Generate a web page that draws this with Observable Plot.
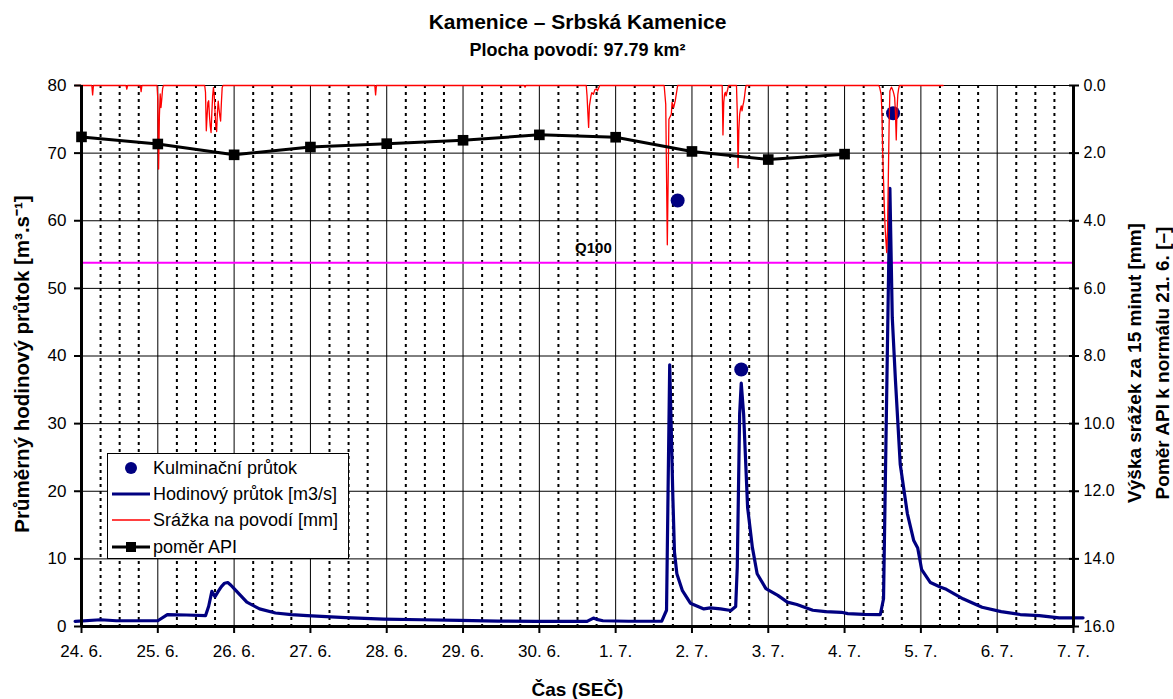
<!DOCTYPE html>
<html>
<head>
<meta charset="utf-8">
<script src="https://cdn.jsdelivr.net/npm/d3@7"></script>
<script src="https://cdn.jsdelivr.net/npm/@observablehq/plot@0.6"></script>
<style>
  html, body { margin: 0; padding: 0; background: #fff; overflow: hidden; }
  #chart { width: 1173px; height: 699px; }
</style>
</head>
<body>
<div id="chart"></div>
<script>
// ---------------- DATA ----------------
const titleText = "Kamenice – Srbská Kamenice";
const subtitleText = "Plocha povodí: 97.79 km²";
const leftTitle = "Průměrný hodinový průtok [m³.s⁻¹]";
const rightTitle1 = "Výška srážek za 15 minut [mm]";
const rightTitle2 = "Poměr API k normálu 21. 6. [–]";
const xTitle = "Čas (SEČ)";
const q100Label = "Q100";
const q100Value = 53.8;
const q100LabelTime = "2009-06-30T17:00";
const q100LabelY = 55.9;

const dayTicks = ["2009-06-24","2009-06-25","2009-06-26","2009-06-27","2009-06-28","2009-06-29","2009-06-30",
                  "2009-07-01","2009-07-02","2009-07-03","2009-07-04","2009-07-05","2009-07-06","2009-07-07"];
const dayLabels = ["24. 6.","25. 6.","26. 6.","27. 6.","28. 6.","29. 6.","30. 6.",
                   "1. 7.","2. 7.","3. 7.","4. 7.","5. 7.","6. 7.","7. 7."];
const leftTicks = [0, 10, 20, 30, 40, 50, 60, 70, 80];
const rightTicks = [16, 14, 12, 10, 8, 6, 4, 2, 0];          // right-axis values at the same heights
const rightTickLabels = ["16.0","14.0","12.0","10.0","8.0","6.0","4.0","2.0","0.0"];
const leftMax = 80, rightMax = 16;

const legendLabels = ["Kulminační průtok", "Hodinový průtok [m3/s]", "Srážka na povodí [mm]", "poměr API"];

// Hourly discharge [m3/s]
const flowTime = [
 "2009-06-23T22:00","2009-06-24T06:00","2009-06-24T11:00","2009-06-25T00:00","2009-06-25T03:00","2009-06-25T09:00",
 "2009-06-25T15:00","2009-06-25T16:00","2009-06-25T17:00","2009-06-25T18:00","2009-06-25T19:00","2009-06-25T20:00",
 "2009-06-25T21:00","2009-06-25T22:00","2009-06-25T23:00","2009-06-26T00:00","2009-06-26T02:00","2009-06-26T04:00",
 "2009-06-26T08:00","2009-06-26T13:00","2009-06-26T18:00","2009-06-26T23:00","2009-06-27T11:00","2009-06-27T23:00",
 "2009-06-28T11:00","2009-06-28T23:00","2009-06-29T11:00","2009-06-29T23:00","2009-06-30T15:00","2009-06-30T17:00",
 "2009-06-30T18:00","2009-06-30T20:00","2009-07-01T04:00","2009-07-01T14:30","2009-07-01T16:00","2009-07-01T17:00",
 "2009-07-01T18:00","2009-07-01T18:30","2009-07-01T19:15","2009-07-01T21:00","2009-07-01T23:30","2009-07-02T03:45",
 "2009-07-02T05:45","2009-07-02T09:00","2009-07-02T12:15","2009-07-02T13:45","2009-07-02T14:15","2009-07-02T15:00",
 "2009-07-02T15:30","2009-07-02T16:15","2009-07-02T17:30","2009-07-02T19:00","2009-07-02T20:30","2009-07-02T23:15",
 "2009-07-03T03:00","2009-07-03T06:00","2009-07-03T09:00","2009-07-03T14:00","2009-07-03T18:00","2009-07-03T23:00",
 "2009-07-04T01:00","2009-07-04T06:00","2009-07-04T11:15","2009-07-04T12:15","2009-07-04T14:15","2009-07-04T15:00",
 "2009-07-04T16:00","2009-07-04T17:30","2009-07-04T19:45","2009-07-04T21:45","2009-07-04T23:00","2009-07-05T00:15",
 "2009-07-05T03:00","2009-07-05T06:15","2009-07-05T08:00","2009-07-05T13:15","2009-07-05T19:15","2009-07-06T01:15",
 "2009-07-06T07:15","2009-07-06T13:15","2009-07-06T19:30","2009-07-07T03:00"];
const flowValue = [
 0.75, 1.0, 0.85, 0.85, 1.75, 1.7,
 1.6, 3.0, 5.2, 4.4, 5.2, 5.9,
 6.4, 6.5, 6.1, 5.6, 4.6, 3.6,
 2.6, 2.0, 1.75, 1.6, 1.3, 1.1,
 1.0, 0.9, 0.8, 0.75, 0.75, 1.25,
 1.05, 0.85, 0.78, 0.8, 2.4, 38.7,
 19, 11, 7.8, 5.3, 3.45, 2.6,
 2.76, 2.6, 2.36, 2.96, 8.8, 31.5,
 36.0, 31.4, 17.6, 11.7, 7.8, 5.6,
 4.6, 3.6, 3.25, 2.4, 2.2, 2.1,
 1.9, 1.8, 1.77, 4.1, 64.8, 45.7,
 36.4, 24, 16.7, 12.7, 11.6, 8.4,
 6.5, 5.8, 5.5, 4.1, 2.85, 2.2,
 1.77, 1.62, 1.28, 1.28];

// Peak (culmination) discharge [m3/s]
const peakTime = ["2009-07-01T19:30", "2009-07-02T15:30", "2009-07-04T15:15"];
const peakValue = [63.0, 38.0, 75.9];

// API ratio [-] (right axis)
const apiTime = ["2009-06-24","2009-06-25","2009-06-26","2009-06-27","2009-06-28","2009-06-29",
                 "2009-06-30","2009-07-01","2009-07-02","2009-07-03","2009-07-04"];
const apiValue = [1.52, 1.73, 2.05, 1.82, 1.72, 1.62, 1.46, 1.53, 1.95, 2.19, 2.03];

// 15-minute basin precipitation [mm] (right axis, reversed)
const rainTime = [
 "2009-06-23T22:00","2009-06-24T03:15","2009-06-24T03:30","2009-06-24T03:45","2009-06-24T14:00","2009-06-24T14:15",
 "2009-06-24T14:30","2009-06-24T18:30","2009-06-24T18:45","2009-06-24T19:00","2009-06-24T23:45","2009-06-25T00:00",
 "2009-06-25T00:15","2009-06-25T00:30","2009-06-25T00:45","2009-06-25T01:00","2009-06-25T01:15","2009-06-25T01:30",
 "2009-06-25T01:45","2009-06-25T14:45","2009-06-25T15:00","2009-06-25T15:15","2009-06-25T15:30","2009-06-25T15:45",
 "2009-06-25T16:00","2009-06-25T16:15","2009-06-25T16:30","2009-06-25T16:45","2009-06-25T17:00","2009-06-25T17:15",
 "2009-06-25T17:30","2009-06-25T17:45","2009-06-25T18:00","2009-06-25T18:15","2009-06-25T18:30","2009-06-25T18:45",
 "2009-06-25T19:00","2009-06-25T19:15","2009-06-25T19:30","2009-06-25T19:45","2009-06-25T20:00","2009-06-25T20:15",
 "2009-06-25T20:30","2009-06-27T20:15","2009-06-27T20:30","2009-06-27T20:45","2009-06-29T19:15","2009-06-29T19:30",
 "2009-06-29T19:45","2009-06-30T14:45","2009-06-30T15:00","2009-06-30T15:15","2009-06-30T15:30","2009-06-30T15:45",
 "2009-06-30T16:15","2009-06-30T16:30","2009-06-30T17:00","2009-06-30T17:30","2009-06-30T18:00","2009-06-30T18:15",
 "2009-06-30T18:45","2009-06-30T19:00","2009-07-01T15:15","2009-07-01T15:45","2009-07-01T16:15","2009-07-01T16:45",
 "2009-07-01T17:30","2009-07-01T17:45","2009-07-01T18:15","2009-07-01T18:45","2009-07-01T19:15","2009-07-01T19:30",
 "2009-07-02T09:30","2009-07-02T09:45","2009-07-02T10:00","2009-07-02T10:15","2009-07-02T10:30","2009-07-02T10:45",
 "2009-07-02T11:00","2009-07-02T11:15","2009-07-02T11:30","2009-07-02T14:00","2009-07-02T14:15","2009-07-02T14:30",
 "2009-07-02T14:45","2009-07-02T15:00","2009-07-02T15:15","2009-07-02T15:30","2009-07-02T15:45","2009-07-02T16:00",
 "2009-07-02T16:15","2009-07-02T16:30","2009-07-02T16:45","2009-07-02T17:00","2009-07-04T10:45","2009-07-04T11:00",
 "2009-07-04T11:15","2009-07-04T11:30","2009-07-04T11:45","2009-07-04T12:00","2009-07-04T12:15","2009-07-04T12:30",
 "2009-07-04T12:45","2009-07-04T13:00","2009-07-04T13:15","2009-07-04T13:30","2009-07-04T13:45","2009-07-04T14:00",
 "2009-07-04T14:15","2009-07-04T14:30","2009-07-04T14:45","2009-07-04T15:00","2009-07-04T15:15","2009-07-04T15:30",
 "2009-07-04T15:45","2009-07-04T16:00","2009-07-04T16:15","2009-07-04T16:30","2009-07-04T16:45","2009-07-04T17:00",
 "2009-07-04T17:15","2009-07-05T07:00"];
const rainValue = [
 0, 0, 0.28, 0, 0, 0.11,
 0, 0, 0.18, 0, 0, 0.4,
 2.47, 0.9, 0.25, 0.65, 0.4, 0.1,
 0, 0, 0.2, 1.34, 0.9, 0.5,
 0.45, 0.9, 1.2, 1.39, 0.8, 0.3,
 0.06, 0.3, 0.8, 1.2, 1.36, 0.8,
 0.46, 0.7, 0.9, 1.05, 0.5, 0.06,
 0, 0, 0.28, 0, 0, 0.05,
 0, 0, 0.3, 0.8, 1.24, 0.6,
 0.3, 0.21, 0.26, 0.12, 0.1, 0.16,
 0.05, 0, 0, 0.55, 4.71, 1.0,
 0.85, 0.5, 0.65, 0.45, 0.15, 0,
 0, 1.46, 0.5, 0.26, 0.2, 0.31,
 0.2, 0.11, 0, 0, 0.8, 2.43,
 1.3, 0.85, 0.7, 0.6, 0.75, 0.6,
 0.5, 0.35, 0.15, 0, 0, 0.05,
 0.15, 0.26, 0.8, 2.0, 2.8, 3.6,
 4.2, 4.6, 4.94, 4.3, 2.8, 1.2,
 0.16, 0.1, 0.05, 0.1, 0.16, 0.25,
 0.36, 0.8, 1.61, 0.7, 0.26, 0.1,
 0, 0];

// ---------------- BUILD ----------------
const parse = s => new Date((s.length === 10 ? s + "T00:00" : s) + ":00Z");
const days = dayTicks.map(parse);
const x0 = days[0], x1 = days[days.length - 1];
const toLeft = v => leftMax - v * (leftMax / rightMax);   // right-axis value -> left-axis position

const flow = flowTime.map((t, i) => ({t: parse(t), v: flowValue[i]}));
const peaks = peakTime.map((t, i) => ({t: parse(t), v: peakValue[i]}));
const api = apiTime.map((t, i) => ({t: parse(t), v: apiValue[i]}));
const rain = rainTime.map((t, i) => ({t: parse(t), v: rainValue[i]}));
const sixHours = d3.utcHour.every(6).range(x0, x1).filter(d => d.getUTCHours() !== 0);

const FONT = "'Liberation Sans', Arial, Helvetica, sans-serif";
const NAVY = "#000080";
const T = {text: d => d, fill: "#000", fontWeight: "bold", textAnchor: "middle", lineAnchor: "middle"};

const plot = Plot.plot({
  width: 1173,
  height: 699,
  marginTop: 85,
  marginBottom: 73,
  marginLeft: 81,
  marginRight: 100,
  style: {fontFamily: FONT, fontSize: "16px", color: "#000", background: "#fff", overflow: "visible"},
  x: {type: "utc", domain: [x0, x1]},
  y: {type: "linear", domain: [0, leftMax]},
  marks: [
    // grid
    Plot.ruleX(sixHours, {stroke: "#000", strokeWidth: 2, strokeDasharray: "3,4"}),
    Plot.ruleX(days.slice(1, -1), {stroke: "#000", strokeWidth: 1}),
    Plot.ruleY(leftTicks.slice(1, -1), {stroke: "#000", strokeWidth: 1}),
    Plot.ruleY([leftMax], {stroke: "#000", strokeWidth: 1}),
    // Q100
    Plot.ruleY([q100Value], {stroke: "#ff00ff", strokeWidth: 2}),
    Plot.text([q100Label], {x: () => parse(q100LabelTime), y: () => q100LabelY, text: d => d,
      fontWeight: "bold", fontSize: 15, fill: "#000"}),
    // hourly discharge
    Plot.line(flow, {x: "t", y: "v", stroke: NAVY, strokeWidth: 3.2, strokeLinejoin: "round"}),
    // culmination
    Plot.dot(peaks, {x: "t", y: "v", r: 7, fill: NAVY, stroke: "none"}),
    // precipitation (hanging from top on reversed right axis)
    Plot.line(rain, {x: "t", y: d => toLeft(d.v), stroke: "#ff0000", strokeWidth: 1.3}),
    // API ratio
    Plot.line(api, {x: "t", y: d => toLeft(d.v), stroke: "#000", strokeWidth: 3}),
    Plot.dot(api, {x: "t", y: d => toLeft(d.v), symbol: "square", r: 6, fill: "#000", stroke: "none"}),
    // axis lines
    Plot.ruleX([x0], {stroke: "#000", strokeWidth: 3}),
    Plot.ruleX([x1], {stroke: "#000", strokeWidth: 3}),
    Plot.ruleY([0], {stroke: "#000", strokeWidth: 3}),
    // axes
    Plot.axisX({ticks: days, tickFormat: d => dayLabels[days.findIndex(e => +e === +d)],
      tickSize: 7, tickPadding: 11, fontSize: 17, label: null, strokeWidth: 2}),
    Plot.axisY({anchor: "left", ticks: leftTicks, tickFormat: d => String(d),
      tickSize: 7, tickPadding: 8, fontSize: 17, label: null, strokeWidth: 2}),
    Plot.axisY({anchor: "right", ticks: leftTicks,
      tickFormat: d => rightTickLabels[rightTicks.indexOf((leftMax - d) * rightMax / leftMax)],
      tickSize: 10, dx: -5, tickPadding: 5, fontSize: 16, label: null, strokeWidth: 2}),
    // titles
    Plot.text([titleText], {...T, frameAnchor: "top", dy: -63, fontSize: 21}),
    Plot.text([subtitleText], {...T, frameAnchor: "top", dy: -35, fontSize: 18}),
    Plot.text([xTitle], {...T, frameAnchor: "bottom", dy: 63, fontSize: 19}),
    Plot.text([leftTitle], {...T, frameAnchor: "left", dx: -59, dy: 8, rotate: -90, fontSize: 20.5}),
    Plot.text([rightTitle1], {...T, frameAnchor: "right", dx: 61, dy: 7, rotate: -90, fontSize: 19}),
    Plot.text([rightTitle2], {...T, frameAnchor: "right", dx: 89, dy: 7, rotate: -90, fontSize: 19})
  ]
});

document.getElementById("chart").appendChild(plot);

// ---------------- LEGEND ----------------
const svg = d3.select(plot);
const lg = svg.append("g").attr("font-family", FONT).attr("font-size", 18).attr("text-anchor", "start");
lg.append("rect").attr("x", 107.5).attr("y", 453.5).attr("width", 241).attr("height", 105)
  .attr("fill", "#fff").attr("stroke", "#000").attr("stroke-width", 1);
const rowY = [468, 494, 520, 547];
const symX0 = 112, symX1 = 150, symXC = 131, textX = 153;
// Kulminační průtok
lg.append("circle").attr("cx", symXC).attr("cy", rowY[0]).attr("r", 6).attr("fill", NAVY);
// Hodinový průtok
lg.append("line").attr("x1", symX0).attr("x2", symX1).attr("y1", rowY[1]).attr("y2", rowY[1])
  .attr("stroke", NAVY).attr("stroke-width", 3);
// Srážka
lg.append("line").attr("x1", symX0).attr("x2", symX1).attr("y1", rowY[2]).attr("y2", rowY[2])
  .attr("stroke", "#ff0000").attr("stroke-width", 1.3);
// API
lg.append("line").attr("x1", symX0).attr("x2", symX1).attr("y1", rowY[3]).attr("y2", rowY[3])
  .attr("stroke", "#000").attr("stroke-width", 3);
lg.append("rect").attr("x", symXC - 5).attr("y", rowY[3] - 5).attr("width", 10).attr("height", 10).attr("fill", "#000");
legendLabels.forEach((lab, i) => {
  lg.append("text").attr("x", textX).attr("y", rowY[i]).attr("dy", "0.35em")
    .attr("text-anchor", "start").attr("fill", "#000").text(lab);
});
</script>
</body>
</html>
